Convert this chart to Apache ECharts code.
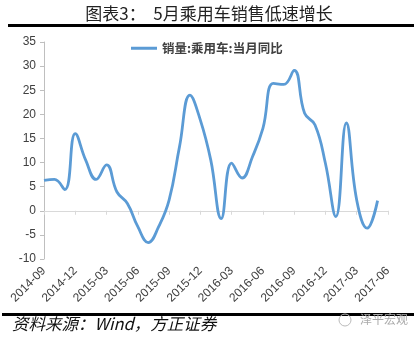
<!DOCTYPE html>
<html><head><meta charset="utf-8">
<script src="https://cdn.jsdelivr.net/npm/echarts@6/dist/echarts.min.js"></script>
<style>html,body{margin:0;padding:0;background:#fff}#c{width:418px;height:339px}</style>
</head><body><div id="c"></div>
<script>
const titleText = '图表3：  5月乘用车销售低速增长';
const sourceText = '资料来源：Wind，方正证券';
const watermarkText = '泽平宏观';
const seriesName = '销量:乘用车:当月同比';
const months = ['2014-09','2014-10','2014-11','2014-12','2015-01','2015-02','2015-03','2015-04','2015-05','2015-06','2015-07','2015-08','2015-09','2015-10','2015-11','2015-12','2016-01','2016-02','2016-03','2016-04','2016-05','2016-06','2016-07','2016-08','2016-09','2016-10','2016-11','2016-12','2017-01','2017-02','2017-03','2017-04','2017-05','2017-06'];
const yoy = [6.3,6.5,4.4,16.0,10.5,6.5,9.5,3.9,1.5,-3.3,-6.6,-3.3,2.2,13.3,24.0,18.8,10.5,-1.6,9.9,6.8,11.2,17.1,26.4,26.2,29.1,20.2,17.8,9.8,-1.2,18.2,2.2,-3.6,2.1];
const yMin = -10, yMax = 35, yStep = 5;

const chart = echarts.init(document.getElementById('c'), null, {renderer:'canvas'});
chart.setOption({
  animation:false,
  backgroundColor:'#fff',
  title:{text:titleText,left:'center',top:0,textStyle:{fontFamily:'Noto Sans CJK SC',fontSize:17,fontWeight:'normal',color:'#222'}},
  legend:{data:[seriesName],left:126,top:37,itemWidth:26,itemHeight:3,icon:'rect',itemGap:4,
    textStyle:{fontFamily:'Noto Sans CJK SC',fontSize:12.5,fontWeight:'bold',color:'#404040'}},
  grid:{left:44,right:30,top:42,bottom:80,containLabel:false},
  xAxis:[{type:'category',data:months,boundaryGap:false,
      axisLine:{onZero:true,lineStyle:{color:'#d9d9d9',width:1}},
      axisTick:{show:true,interval:2,length:4,lineStyle:{color:'#d9d9d9'}},
      axisLabel:{show:false},splitLine:{show:false}},
    {type:'category',data:months,boundaryGap:false,position:'bottom',
      axisLine:{show:false},axisTick:{show:false},
      axisLabel:{interval:2,rotate:45,margin:10,fontFamily:'Liberation Sans',fontSize:12,color:'#404040'}}],
  yAxis:{type:'value',min:yMin,max:yMax,interval:yStep,
    axisLine:{show:true,lineStyle:{color:'#bfbfbf'}},
    axisTick:{show:true,length:4,lineStyle:{color:'#bfbfbf'}},
    axisLabel:{margin:8,fontFamily:'Liberation Sans',fontSize:12,color:'#404040'},
    splitLine:{show:false}},
  series:[{name:seriesName,type:'line',data:yoy,smooth:0.45,symbol:'none',
    lineStyle:{color:'#5B9BD5',width:2.8},itemStyle:{color:'#5B9BD5'}}],
  graphic:[
    {type:'rect',shape:{x:8,y:24,width:406,height:3},style:{fill:'#000'}},
    {type:'rect',shape:{x:2,y:313,width:412,height:3},style:{fill:'#000'}},
    {type:'text',left:12,top:315,style:{text:sourceText,font:'italic 16.5px "Noto Sans CJK SC"',fill:'#111'}},
    {type:'circle',shape:{cx:345,cy:320,r:6},style:{fill:'none',stroke:'#bbb',lineWidth:1}},
    {type:'text',left:360,top:313,style:{text:watermarkText,font:'12px "Noto Sans CJK SC"',fill:'#aaa'}}
  ]
});
</script></body></html>
